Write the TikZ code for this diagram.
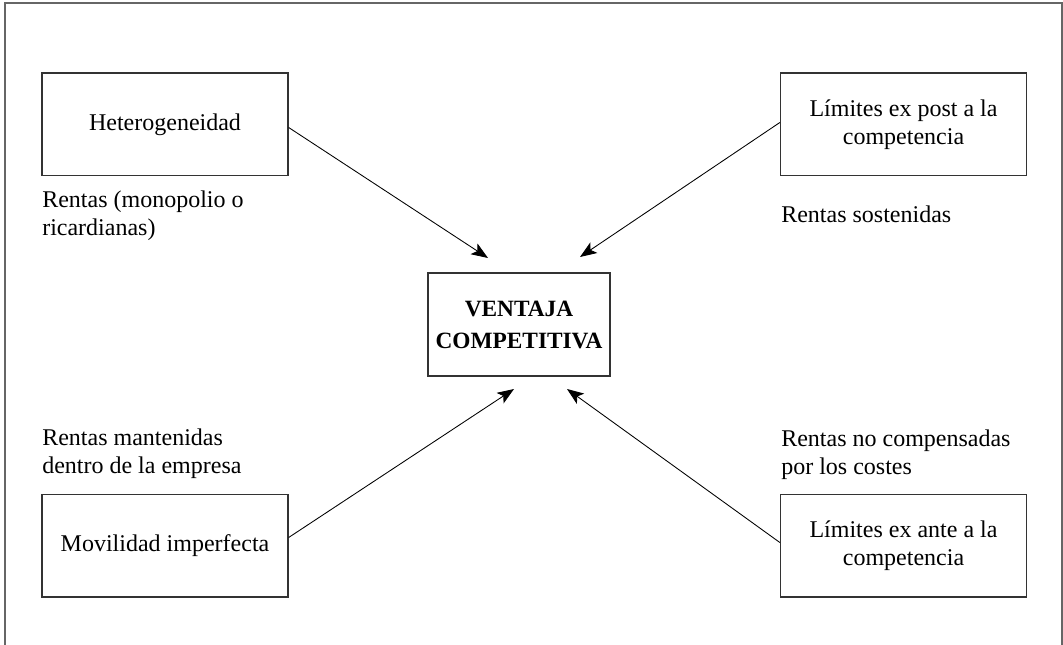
\documentclass[tikz,border=0pt]{standalone}
\usepackage{fontspec}
\setmainfont{Liberation Serif}
\usetikzlibrary{arrows.meta,calc}
\begin{document}
\begin{tikzpicture}[x=0.75pt,y=-0.75pt,
  box/.style={draw=black!80,line width=1pt,minimum width=184.5pt,minimum height=77pt,align=center,inner sep=0pt,font=\fontsize{18}{21}\selectfont},
  lbl/.style={anchor=west,align=left,inner sep=0pt,font=\fontsize{18}{21}\selectfont},
  arr/.style={line width=0.65pt,-{Stealth[length=12.5pt,width=9.5pt,inset=3pt]}}]
\useasboundingbox (0,0) rectangle (1063,645);
\draw[black!60,line width=0.8pt] (5,645) -- (5,3) -- (1062,3) -- (1062,645);
\node[box] (het) at (165,124.5) {Heterogeneidad};
\node[box] (post) at (903.5,124.5) {Límites ex post a la\\competencia};
\node[box] (mov) at (165,545.5) {Movilidad imperfecta};
\node[box] (ante) at (903.5,545.5) {Límites ex ante a la\\competencia};
\node[box,minimum width=136.5pt,font=\fontsize{17.5}{24}\selectfont\bfseries] (vc) at (519,324.5) {VENTAJA\\COMPETITIVA};
\node[lbl] (r1) at (42,216) {Rentas (monopolio o\\ricardianas)};
\node[lbl] (r2) at (781,214) {Rentas sostenidas};
\node[lbl] (r3) at (42,454) {Rentas mantenidas\\dentro de la empresa};
\node[lbl] (r4) at (781,455) {Rentas no compensadas\\por los costes};
\coordinate (t1) at (488,258);
\coordinate (t2) at (580,257);
\coordinate (t3) at (514,389);
\coordinate (t4) at (567,389);
\draw[arr] ($(het.east)+(0,3)$) -- (t1);
\draw[arr] ($(post.west)+(0,-2)$) -- (t2);
\draw[arr] ($(mov.east)+(0,-8)$) -- (t3);
\draw[arr] ($(ante.west)+(0,-3)$) -- (t4);
\end{tikzpicture}
\end{document}
